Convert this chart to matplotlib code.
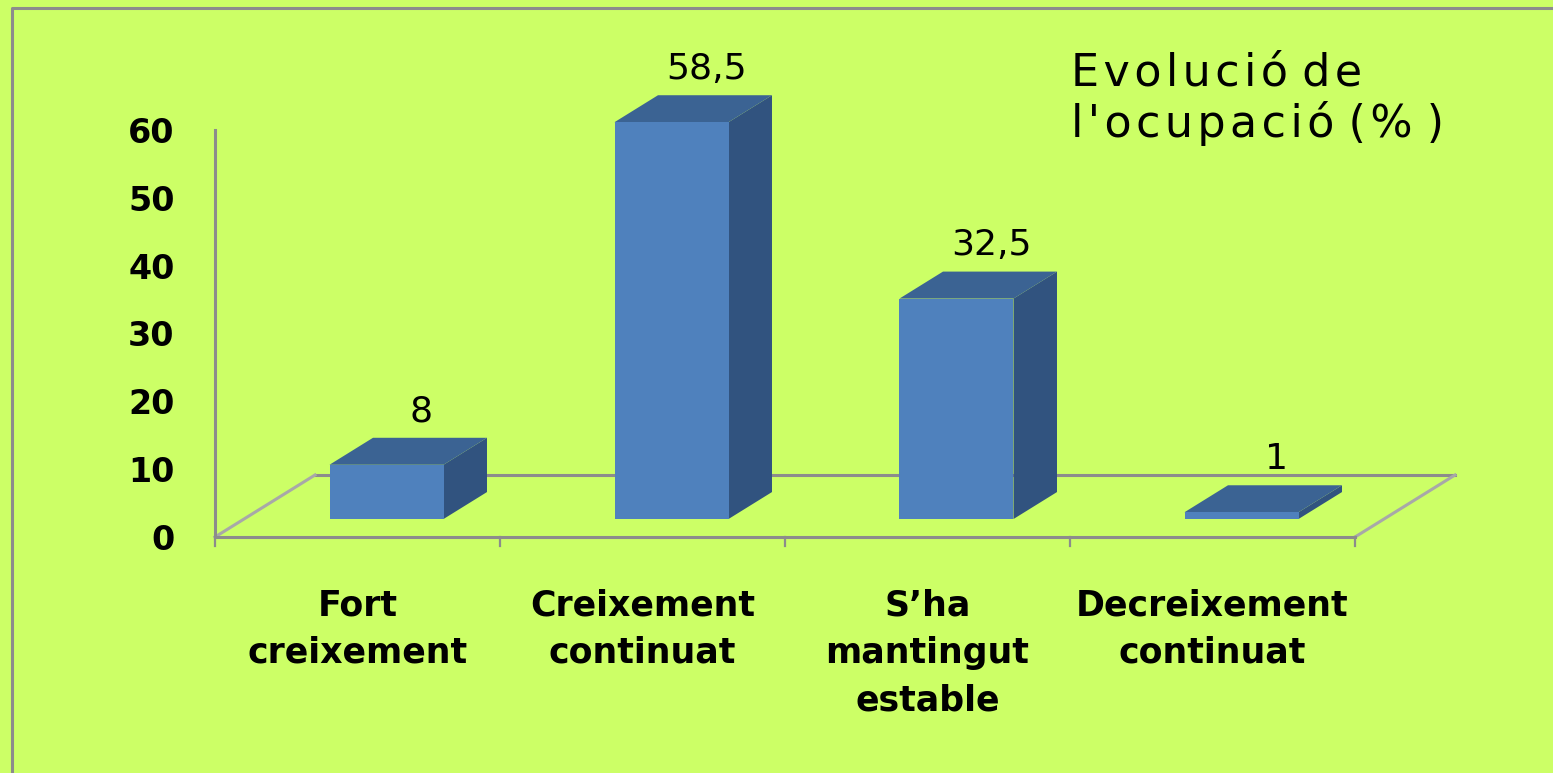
import matplotlib
matplotlib.use("Agg")
import matplotlib.pyplot as plt
from matplotlib.patches import Polygon, Rectangle
from matplotlib.lines import Line2D

# ---- data ----
categories = ["Fort\ncreixement", "Creixement\ncontinuat", "S\u2019ha\nmantingut\nestable", "Decreixement\ncontinuat"]
values = [8, 58.5, 32.5, 1]
value_labels = ["8", "58,5", "32,5", "1"]
yticks = [0, 10, 20, 30, 40, 50, 60]
title_lines = ["Evoluci\u00f3 de", "l'ocupaci\u00f3 (% )"]

# ---- style ----
W, H, DPI = 1553, 773, 100
BG = "#CCFF66"
FRONT = "#4F81BD"
TOP = "#3B6393"
SIDE = "#31537F"
AX = "#8C8C8C"
DIAG = "#A8A8A8"

fig = plt.figure(figsize=(W / DPI, H / DPI), dpi=DPI, facecolor=BG)
# axes placed so that category 0..4 spans x=215..1355 px, values 0..60 span y=537..130 px
left, right, bot_px, top_px = 215, 1355, 537, 130
ax = fig.add_axes([left / W, 1 - bot_px / H, (right - left) / W, (bot_px - top_px) / H])
ax.set_facecolor("none")
ax.set_xlim(0, len(categories))
ax.set_ylim(0, 60)
for s in ax.spines.values():
    s.set_visible(False)
ax.set_xticks([])

px_per_cat = (right - left) / len(categories)
px_per_val = (bot_px - top_px) / 60.0

# floor depth (pixels) converted to data units
Dx = 100 / px_per_cat
Dy = 62 / px_per_val
tf, tb = 0.29, 0.725  # bar front/back planes as fractions of floor depth
bw = 0.40

# y axis ticks / labels
ax.set_yticks(yticks)
ax.set_yticklabels([str(t) for t in yticks], fontfamily="DejaVu Sans", fontweight="bold", fontsize=24)
ax.tick_params(axis="y", length=0, pad=29)

lw = 2.2
# back floor line (behind bars)
ax.add_line(Line2D([Dx, len(categories) + Dx], [Dy, Dy], color=AX, lw=lw, clip_on=False, zorder=1))
# side diagonals of floor
ax.add_line(Line2D([0, Dx], [0, Dy], color=DIAG, lw=2.2, clip_on=False, zorder=1))
ax.add_line(Line2D([len(categories), len(categories) + Dx], [0, Dy], color=DIAG, lw=2.2, clip_on=False, zorder=1))
# front floor line and y axis
ax.add_line(Line2D([0, len(categories)], [0, 0], color=AX, lw=lw, clip_on=False, zorder=5))
ax.add_line(Line2D([0, 0], [0, 60], color=AX, lw=lw, clip_on=False, zorder=5))
# category boundary ticks
tick_len = 9 / px_per_val
for k in range(len(categories) + 1):
    ax.add_line(Line2D([k, k], [0, -tick_len], color=AX, lw=1.6, clip_on=False, zorder=5))

# bars
ddx, ddy = (tb - tf) * Dx, (tb - tf) * Dy
for i, (v, lab) in enumerate(zip(values, value_labels)):
    x0 = i + 0.5 - bw / 2 + tf * Dx
    y0 = tf * Dy
    side = Polygon([(x0 + bw, y0), (x0 + bw + ddx, y0 + ddy), (x0 + bw + ddx, y0 + v + ddy), (x0 + bw, y0 + v)],
                   closed=True, facecolor=SIDE, edgecolor="none", clip_on=False, zorder=3)
    topf = Polygon([(x0, y0 + v), (x0 + bw, y0 + v), (x0 + bw + ddx, y0 + v + ddy), (x0 + ddx, y0 + v + ddy)],
                   closed=True, facecolor=TOP, edgecolor="none", clip_on=False, zorder=3)
    front = Rectangle((x0, y0), bw, v, facecolor=FRONT, edgecolor="none", clip_on=False, zorder=4)
    ax.add_patch(side)
    ax.add_patch(topf)
    ax.add_patch(front)
    ax.annotate(lab, (x0 + bw / 2 + 0.8 * ddx, y0 + v + ddy), xytext=(0, 12), textcoords="offset points",
                ha="center", va="baseline", fontsize=26, fontfamily="DejaVu Sans", color="black",
                annotation_clip=False, zorder=6)

# category labels
for i, c in enumerate(categories):
    ax.annotate(c, (i + 0.5, 0), xytext=(0, -37), textcoords="offset points", ha="center", va="top",
                fontsize=25, fontfamily="DejaVu Sans", fontweight="bold", linespacing=1.5,
                annotation_clip=False)

# title (letter-spaced with hair spaces, plain spaces kept as word gaps)
hs = "\u200a"
def spaced(line):
    return " ".join(hs.join(list(w)) for w in line.split(" "))
title = "\n".join(spaced(line) for line in title_lines)
fig.text(1071 / W, 1 - 52 / H, title, ha="left", va="top", fontsize=32, fontfamily="DejaVu Sans",
         linespacing=1.18)

# outer border (top and left visible)
fig.add_artist(Line2D([12 / W, 12 / W, 1], [0, 1 - 7.5 / H, 1 - 7.5 / H], transform=fig.transFigure,
                      color=AX, lw=2.2))

fig.savefig("out.png", dpi=DPI, facecolor=BG)
